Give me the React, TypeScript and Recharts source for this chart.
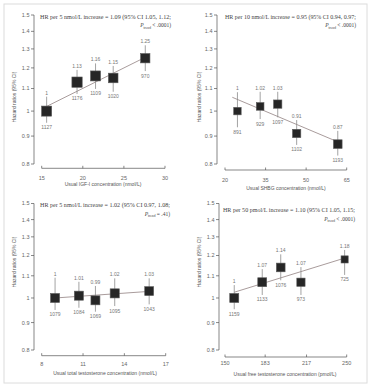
import React from "react";
import { ComposedChart, Scatter, XAxis, YAxis, ErrorBar, ReferenceLine } from "recharts";

const SANS = "Liberation Sans, Arial, sans-serif";
const SERIF = "Liberation Serif, Times New Roman, serif";

const hrTicks = [0.8, 0.9, 1, 1.1, 1.2, 1.3, 1.4, 1.5];

// IGF-I
const igfX = [15.6, 19.3, 21.55, 23.7, 27.6];
const igfHr = [1, 1.13, 1.16, 1.15, 1.25];
const igfLo = [0.952, 1.075, 1.098, 1.085, 1.184];
const igfHi = [1.063, 1.19, 1.223, 1.21, 1.32];
const igfN = [1127, 1176, 1109, 1020, 970];
const igfTicks = [15, 20, 25, 30];
const igfTrendX = [15.6, 27.6];
const igfTrendY = [1.02, 1.255];

// SHBG
const shbgX = [24.6, 33.0, 39.5, 46.5, 61.7];
const shbgHr = [1, 1.02, 1.03, 0.91, 0.87];
const shbgLo = [0.934, 0.967, 0.974, 0.867, 0.829];
const shbgHi = [1.083, 1.085, 1.085, 0.963, 0.92];
const shbgN = [891, 929, 1097, 1102, 1193];
const shbgTicks = [20, 35, 50, 65];
const shbgTrendX = [22.7, 62.5];
const shbgTrendY = [1.06, 0.875];

// total testosterone
const ttX = [8.97, 10.7, 11.9, 13.3, 15.8];
const ttHr = [1, 1.01, 0.99, 1.02, 1.03];
const ttLo = [0.95, 0.959, 0.943, 0.966, 0.973];
const ttHi = [1.091, 1.072, 1.053, 1.088, 1.088];
const ttN = [1079, 1084, 1069, 1095, 1043];
const ttTicks = [8, 11, 14, 17];
const ttTrendX = [8.97, 16.1];
const ttTrendY = [1.0, 1.03];

// free testosterone
const ftX = [157.6, 180.6, 195.8, 212.4, 248.3];
const ftHr = [1, 1.07, 1.14, 1.07, 1.18];
const ftLo = [0.953, 1.013, 1.079, 1.013, 1.104];
const ftHi = [1.057, 1.132, 1.206, 1.142, 1.229];
const ftN = [1159, 1133, 1076, 973, 725];
const ftTicks = [150, 183, 217, 250];
const ftTrendX = [157.6, 250];
const ftTrendY = [1.025, 1.19];

type Geo = {
  left: number; top: number; w: number; h: number;
  axisX: number; x0: number; x1: number; yTop: number; yBot: number;
  lineGap: number; labelDy: number; boxK: number;
};

type PanelProps = {
  x: number[]; hr: number[]; lo: number[]; hi: number[]; n: number[];
  ticks: number[]; trendX: number[]; trendY: number[]; g: Geo;
};

function XTick({ x, y, payload, gap, dy }: any) {
  return (
    <g>
      <line x1={x} x2={x} y1={y + gap} y2={y + gap - 2.5} stroke="#555" strokeWidth={0.7} />
      <text x={x} y={y + dy} textAnchor="middle" fontSize={5.5} fill="#666" fontFamily={SANS}>
        {payload.value}
      </text>
    </g>
  );
}

function Panel({ x, hr, lo, hi, n, ticks, trendX, trendY, g }: PanelProps) {
  const rows = x.map((v, i) => ({
    x: v, hr: hr[i], lo: lo[i], hi: hi[i], n: n[i],
    err: [hr[i] - lo[i], hi[i] - hr[i]],
  }));
  const xAxisH = 20;
  const margin = { top: g.yTop, right: g.w - g.x1, bottom: g.h - g.yBot - xAxisH, left: 0 };
  const first = ticks[0];
  const last = ticks[ticks.length - 1];

  return (
    <div style={{ position: "absolute", left: g.left, top: g.top }}>
      <ComposedChart width={g.w} height={g.h} data={rows} margin={margin}>
        <XAxis
          type="number"
          dataKey="x"
          domain={[first, last]}
          ticks={ticks}
          interval={0}
          padding={{ left: g.x0 - g.axisX, right: 0 }}
          height={xAxisH}
          axisLine={false}
          tickLine={false}
          tickSize={0}
          tickMargin={0}
          tick={<XTick gap={g.lineGap} dy={g.labelDy} />}
        />
        <YAxis
          type="number"
          scale="log"
          domain={[0.8, 1.5]}
          ticks={hrTicks}
          interval={0}
          width={g.axisX}
          tickSize={3}
          tickMargin={1.5}
          stroke="#555"
          strokeWidth={0.7}
          tick={{ fontSize: 5.5, fill: "#666", fontFamily: SANS }}
          tickFormatter={(v: number) => String(v)}
        />
        <ReferenceLine
          segment={[{ x: first, y: 0.8 }, { x: last, y: 0.8 }]}
          ifOverflow="visible"
          shape={(p: any) => (
            <line x1={p.x1} x2={p.x2} y1={p.y1 + g.lineGap} y2={p.y2 + g.lineGap} stroke="#555" strokeWidth={0.7} />
          )}
        />
        <ReferenceLine
          segment={[{ x: trendX[0], y: trendY[0] }, { x: trendX[1], y: trendY[1] }]}
          ifOverflow="visible"
          stroke="#a99c9c"
          strokeWidth={1}
        />
        <Scatter
          dataKey="hr"
          isAnimationActive={false}
          shape={(p: any) => {
            const s = g.boxK * Math.sqrt(p.payload.n);
            return <rect x={p.cx - s / 2} y={p.cy - s / 2} width={s} height={s} fill="#262626" stroke="#5a5a5a" strokeWidth={0.6} />;
          }}
        >
          <ErrorBar dataKey="err" direction="y" width={0} stroke="#8c8c8c" strokeWidth={0.8} isAnimationActive={false} />
        </Scatter>
        <Scatter
          dataKey="hi"
          isAnimationActive={false}
          shape={(p: any) => (
            <text x={p.cx} y={p.cy - 2} textAnchor="middle" fontSize={5} fill="#777" fontFamily={SANS}>
              {String(p.payload.hr)}
            </text>
          )}
        />
        <Scatter
          dataKey="lo"
          isAnimationActive={false}
          shape={(p: any) => (
            <text x={p.cx} y={p.cy + 6.5} textAnchor="middle" fontSize={5} fill="#777" fontFamily={SANS}>
              {p.payload.n}
            </text>
          )}
        />
      </ComposedChart>
    </div>
  );
}

function Note({ x, y, right, text, p }: { x: number; y: number; right: number; text: string; p: string }) {
  return (
    <g fontFamily={SERIF} fill="#444" fontSize={5.5}>
      <text x={x} y={y} textLength={right - x} lengthAdjust="spacingAndGlyphs">{text}</text>
      <text x={right} y={y + 8.5} textAnchor="end">
        <tspan fontStyle="italic">P</tspan>
        <tspan fontSize={3.6} dy={1.5}>trend</tspan>
        <tspan dy={-1.5}>{" " + p}</tspan>
      </text>
    </g>
  );
}

const yTitle = "Hazard ratios (95% CI)";

export default function App() {
  return (
    <div style={{ position: "absolute", left: 0, top: 0, width: 371, height: 390, background: "#fff" }}>
      <Panel x={igfX} hr={igfHr} lo={igfLo} hi={igfHi} n={igfN} ticks={igfTicks} trendX={igfTrendX} trendY={igfTrendY}
        g={{ left: 0, top: 0, w: 185, h: 195, axisX: 34, x0: 41.7, x1: 165, yTop: 15, yBot: 164, lineGap: 4.3, labelDy: 16.3, boxK: 0.3 }} />
      <Panel x={shbgX} hr={shbgHr} lo={shbgLo} hi={shbgHi} n={shbgN} ticks={shbgTicks} trendX={shbgTrendX} trendY={shbgTrendY}
        g={{ left: 185, top: 0, w: 186, h: 195, axisX: 32, x0: 40, x1: 161.7, yTop: 15, yBot: 164, lineGap: 6, labelDy: 18, boxK: 0.25 }} />
      <Panel x={ttX} hr={ttHr} lo={ttLo} hi={ttHi} n={ttN} ticks={ttTicks} trendX={ttTrendX} trendY={ttTrendY}
        g={{ left: 0, top: 195, w: 185, h: 195, axisX: 34, x0: 41.7, x1: 165.7, yTop: 8.5, yBot: 155, lineGap: 5.7, labelDy: 16, boxK: 0.275 }} />
      <Panel x={ftX} hr={ftHr} lo={ftLo} hi={ftHi} n={ftN} ticks={ftTicks} trendX={ftTrendX} trendY={ftTrendY}
        g={{ left: 185, top: 195, w: 186, h: 195, axisX: 34, x0: 40, x1: 161.7, yTop: 8.5, yBot: 155, lineGap: 7, labelDy: 15, boxK: 0.265 }} />
      <svg width={371} height={390} style={{ position: "absolute", left: 0, top: 0, pointerEvents: "none" }}>
        <rect x={4} y={4} width={363} height={379} fill="none" stroke="#dcdcdc" strokeWidth={1} />

        <Note x={40} y={18.5} right={171} text="HR per 5 nmol/L increase = 1.09 (95% CI 1.05, 1.12;" p="< .0001)" />
        <Note x={225} y={18.5} right={356} text="HR per 10 nmol/L increase = 0.95 (95% CI 0.94, 0.97;" p="< .0001)" />
        <Note x={40} y={207} right={170} text="HR per 5 nmol/L increase = 1.02 (95% CI 0.97, 1.08;" p="= .41)" />
        <Note x={223} y={212} right={355} text="HR per 50 pmol/L increase = 1.10 (95% CI 1.05, 1.15;" p="< .0001)" />

        <g fontFamily={SANS} fontSize={5} fill="#555" textAnchor="middle">
          <text x={16} y={97} transform="rotate(-90 16 97)">{yTitle}</text>
          <text x={201} y={97} transform="rotate(-90 201 97)">{yTitle}</text>
          <text x={16} y={262} transform="rotate(-90 16 262)">{yTitle}</text>
          <text x={201} y={262} transform="rotate(-90 201 262)">{yTitle}</text>

          <text x={103} y={186}>Usual IGF-I concentration (nmol/L)</text>
          <text x={286} y={190}>Usual SHBG concentration (nmol/L)</text>
          <text x={105} y={375}>Usual total testosterone concentration (nmol/L)</text>
          <text x={285} y={376}>Usual free testosterone concentration (pmol/L)</text>
        </g>
      </svg>
    </div>
  );
}
